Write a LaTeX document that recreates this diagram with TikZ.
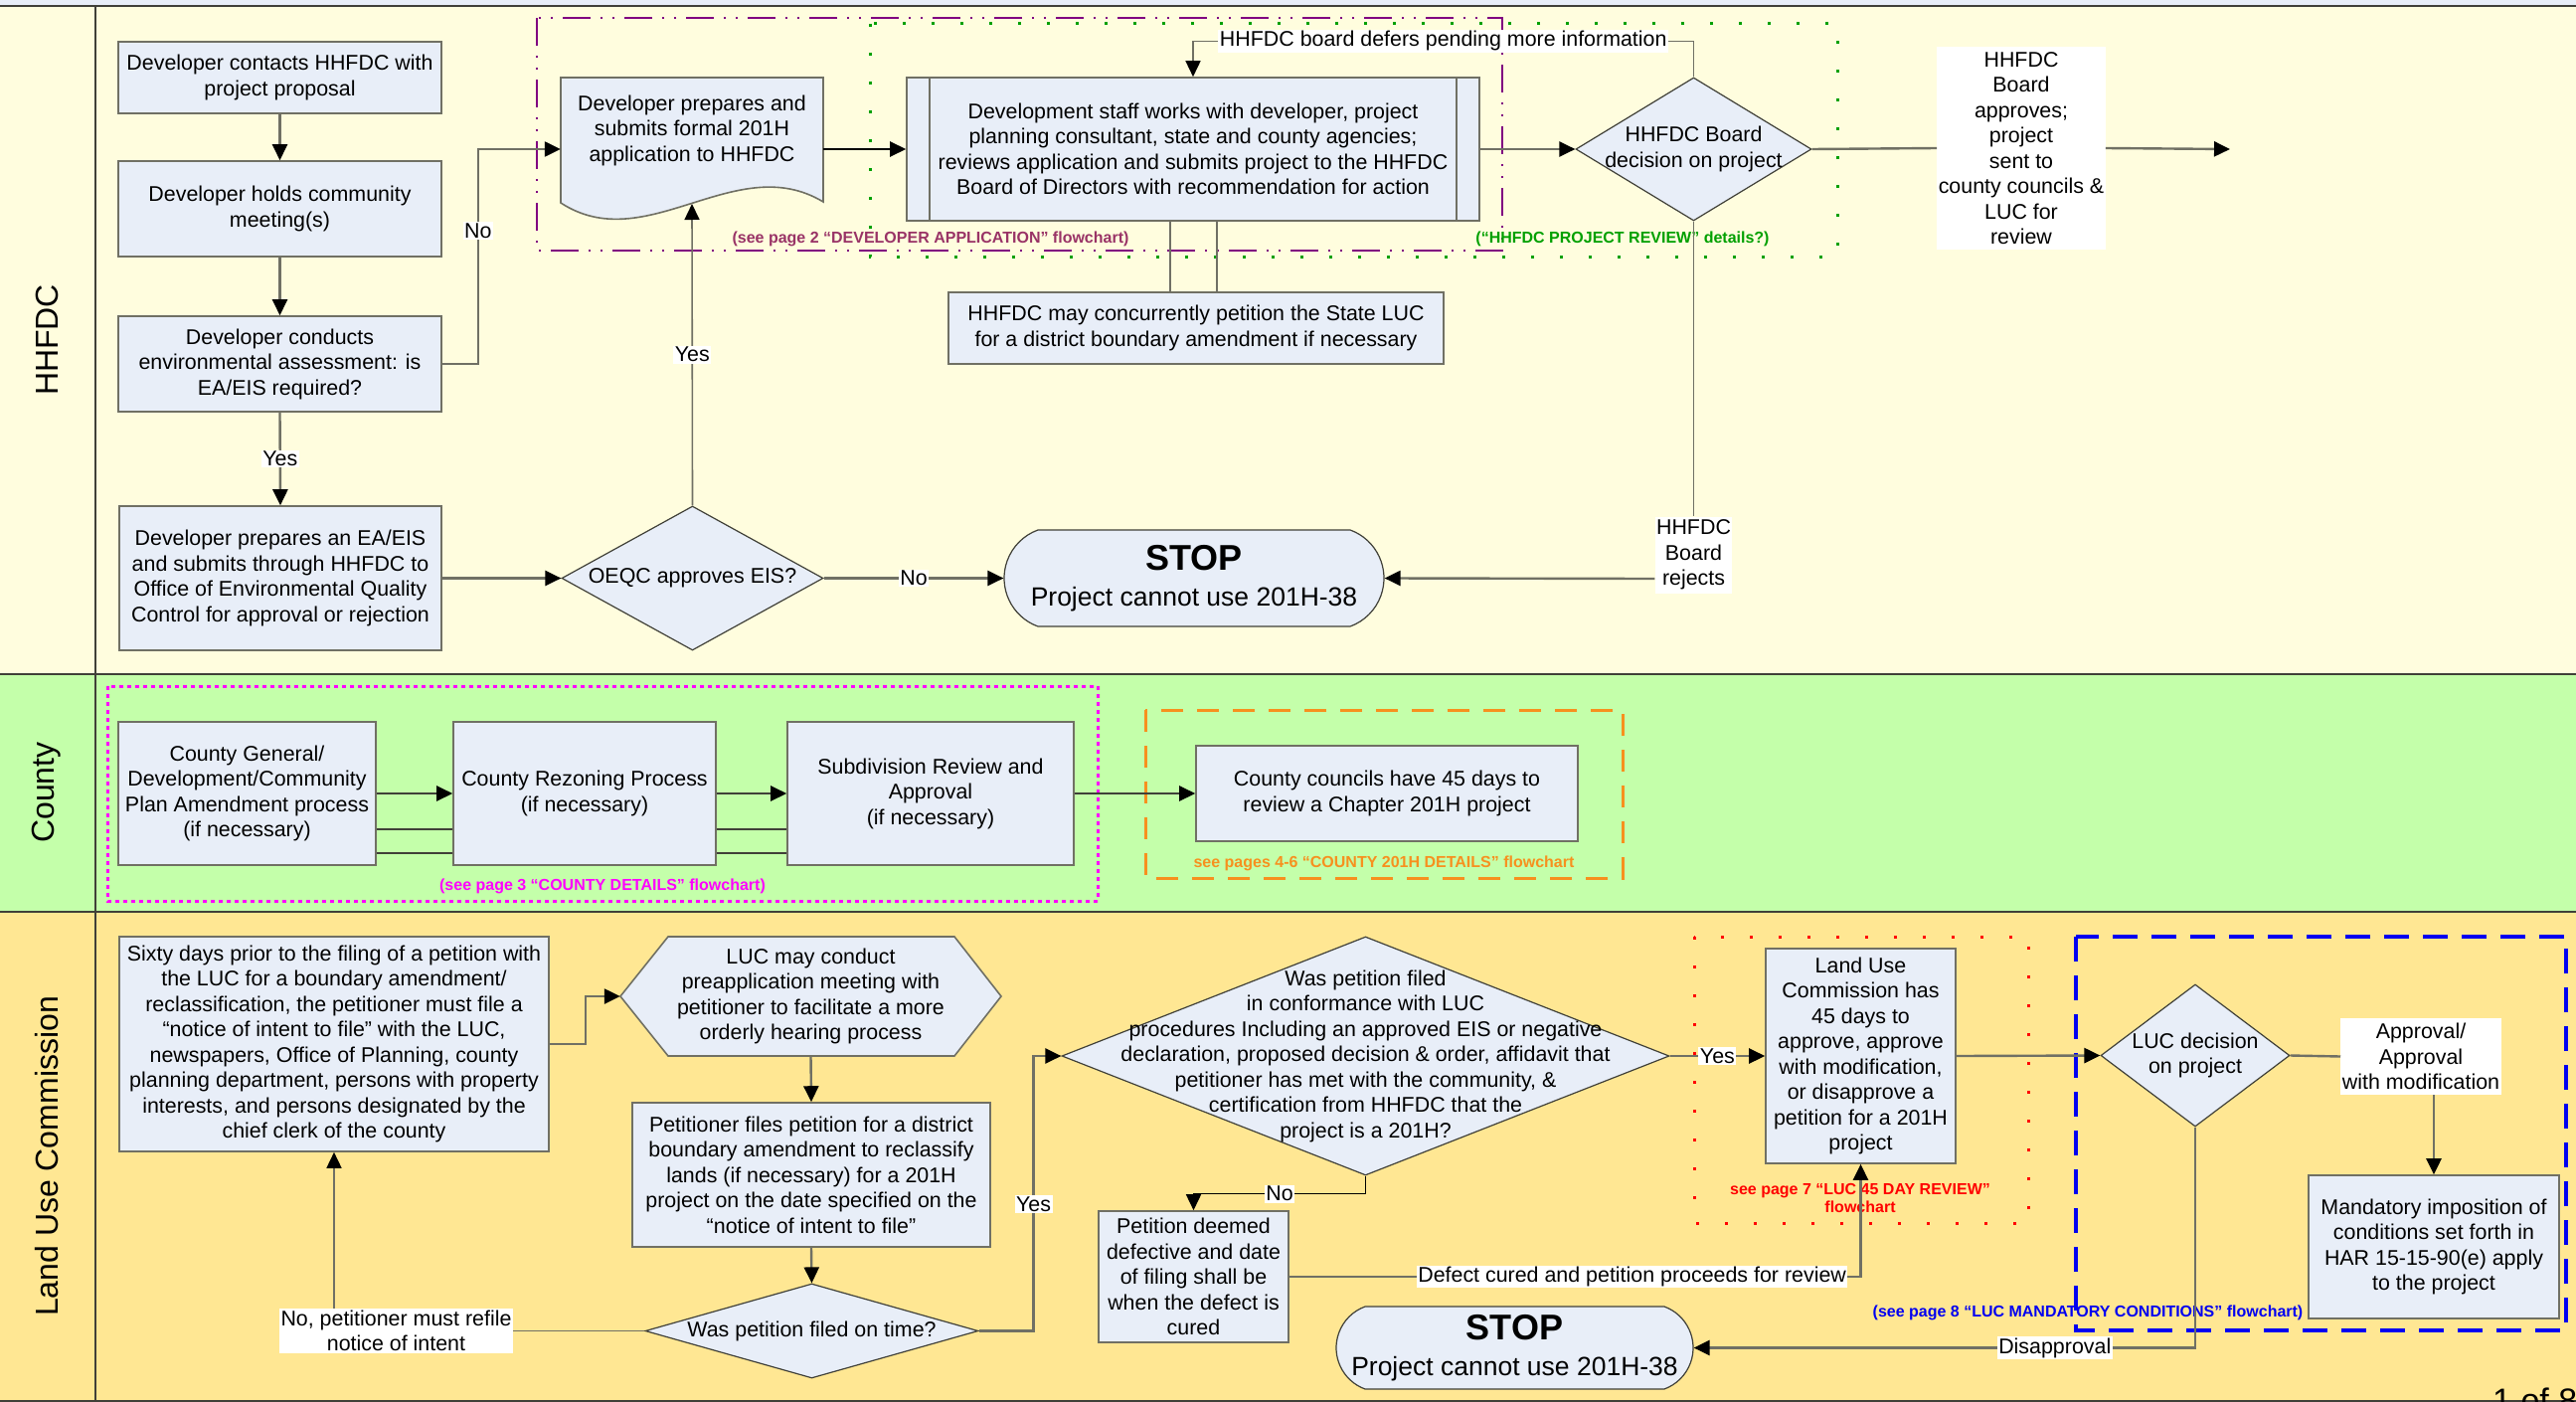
\documentclass[tikz,border=0pt]{standalone}
\usepackage{fontspec}
\setmainfont{Liberation Sans}
\usepackage{tikz}
\usetikzlibrary{arrows.meta, shapes.geometric, shapes.misc}

\definecolor{boxfill}{RGB}{232,238,248}
\definecolor{hhfdcbg}{RGB}{255,253,222}
\definecolor{countybg}{RGB}{196,255,170}
\definecolor{lucbg}{RGB}{255,231,147}
\definecolor{linegray}{RGB}{112,112,100}
\definecolor{framegray}{RGB}{64,64,56}
\definecolor{notepurple}{RGB}{153,51,102}
\definecolor{framepurple}{RGB}{128,0,128}
\definecolor{notegreen}{RGB}{0,160,0}
\definecolor{notemagenta}{RGB}{255,0,255}
\definecolor{noteorange}{RGB}{247,144,30}
\definecolor{notered}{RGB}{255,0,0}
\definecolor{noteblue}{RGB}{0,0,240}

\newcommand\flowfont{\fontsize{21.4}{25.5}\selectfont}
\newcommand\notefont{\fontsize{16}{18}\selectfont\bfseries}
\newcommand\stoptext{{\fontsize{36}{35}\selectfont\bfseries STOP}\\Project cannot use 201H-38}

\tikzset{
every picture/.style={x=1pt, y=-1pt},
proc/.style={draw=linegray, fill=boxfill, line width=1.6pt, align=center, font=\flowfont, inner sep=2pt},
decision/.style={diamond, draw=framegray, fill=boxfill, line width=1.2pt, inner sep=0pt},
dtext/.style={align=center, font=\flowfont, inner sep=0pt},
stopbox/.style={rounded rectangle, rounded rectangle arc length=140, draw=framegray, fill=boxfill, line width=1.2pt, align=center, inner sep=0pt, font=\fontsize{26.5}{36}\selectfont},
lbl/.style={fill=white, align=center, font=\flowfont, inner sep=1.5pt},
flow/.style={draw=linegray, line width=2.4pt, -{Triangle[length=16pt, width=15pt, color=black, fill=black]}},
link/.style={draw=linegray, line width=2.4pt},
note/.style={font=\notefont, align=center, inner sep=0pt},
lane/.style={font=\fontsize{32}{36}\selectfont, rotate=90},
}

\begin{document}
\begin{tikzpicture}
  \useasboundingbox (0,0) rectangle (2591,1410);
  \foreach \ytop/\ybot/\bg in {6/678/hhfdcbg, 678/917/countybg, 917/1410/lucbg}
    \fill[\bg] (0,\ytop) rectangle (2591,\ybot);
  \fill[boxfill] (0,0) rectangle (2591,6);
  \draw[framegray, line width=2pt] (0,6) -- (2591,6) (0,678) -- (2591,678) (0,917) -- (2591,917) (0,1409) -- (2591,1409) (96,6) -- (96,1410);
  \node[lane] (hhfdclane) at (47,342) {HHFDC};
  \node[lane] (countylane) at (47,797) {County};
  \node[lane] (luclane) at (47,1163) {Land Use Commission};

  \draw[framepurple, line width=2.5pt, dash pattern=on 28pt off 10pt on 2pt off 10pt on 2pt off 10pt] (540,18) rectangle (1511,252);
  \draw[notegreen, line width=3pt, dash pattern=on 3pt off 26pt] (875,24) rectangle (1848,258);
  \draw[notemagenta, line width=3pt, dash pattern=on 4pt off 4pt] (108,690) rectangle (1104,906);
  \draw[noteorange, line width=3pt, dash pattern=on 22pt off 14pt] (1152,714) rectangle (1632,883);
  \draw[notered, line width=3pt, dash pattern=on 3pt off 26pt] (1704,942) rectangle (2040,1230);
  \draw[noteblue, line width=3.5pt, dash pattern=on 25pt off 14pt] (2088,942) rectangle (2581,1338);

  \node[proc, minimum width=325pt, minimum height=72pt] (contact) at (281.5,78) {Developer contacts HHFDC with\\project proposal};
  \node[proc, minimum width=325pt, minimum height=96pt] (meeting) at (281.5,210) {Developer holds community\\meeting(s)};
  \node[proc, minimum width=325pt, minimum height=96pt] (assess) at (281.5,366) {Developer conducts\\environmental assessment: is\\EA/EIS required?};
  \node[proc, minimum width=324pt, minimum height=145pt] (prepeis) at (282,581.5) {Developer prepares an EA/EIS\\and submits through HHFDC to\\Office of Environmental Quality\\Control for approval or rejection};
  \node[decision, minimum width=263pt, minimum height=145pt, label={[dtext]center:OEQC approves EIS?}] (oeqc) at (696.5,581.5) {};
  \node[stopbox, minimum width=382pt, minimum height=97pt] (stop1) at (1201,581.5) {\stoptext};
  \filldraw[draw=linegray, fill=boxfill, line width=1.6pt] (564,78) -- (828,78) -- (828,203) .. controls (740,150) and (650,260) .. (564,204) -- cycle;
  \node[dtext, minimum width=264pt, minimum height=106pt] (doc) at (696,131) {Developer prepares and\\submits formal 201H\\application to HHFDC};
  \coordinate (docwave) at (696,205);
  \node[proc, minimum width=576pt, minimum height=144pt] (staff) at (1200,150) {Development staff works with developer, project\\planning consultant, state and county agencies;\\reviews application and submits project to the HHFDC\\Board of Directors with recommendation for action};
  \draw[linegray, line width=1.6pt] ([xshift=24pt]staff.north west) -- ([xshift=24pt]staff.south west) ([xshift=-24pt]staff.north east) -- ([xshift=-24pt]staff.south east);
  \node[proc, minimum width=498pt, minimum height=72pt] (concur) at (1203,330) {HHFDC may concurrently petition the State LUC\\for a district boundary amendment if necessary};
  \node[decision, minimum width=237pt, minimum height=144pt, label={[dtext]center:HHFDC Board\\decision on project}] (board) at (1703.5,150) {};
  \node[lbl, minimum width=166pt, minimum height=204pt] (sent) at (2033,149) {HHFDC\\Board\\approves;\\project\\sent to\\county councils \&\\LUC for\\review};
  \coordinate (onward) at (2243,150);
  \node[lbl, minimum width=75pt, minimum height=77pt] (rejects) at (1703.5,558) {HHFDC\\Board\\rejects};
  \node[note, text=notepurple] (devnote) at (936,240) {(see page 2 “DEVELOPER APPLICATION” flowchart)};
  \node[note, text=notegreen] (reviewnote) at (1632,240) {(“HHFDC PROJECT REVIEW” details?)};

  \draw[flow] (contact.south) -- (meeting.north);
  \draw[flow] (meeting.south) -- (assess.north);
  \draw[flow] (assess.east) -- ++(36,0) |- node[lbl, pos=0.31] {No} ([yshift=-19pt]doc.west);
  \draw[flow] (assess.south) -- node[lbl] {Yes} (prepeis.north);
  \draw[flow] (prepeis.east) -- (oeqc.west);
  \draw[flow, line width=1.6pt] (oeqc.north) -- node[lbl] {Yes} (docwave);
  \draw[flow] (oeqc.east) -- node[lbl] {No} (stop1.west);
  \draw[flow, draw=black] ([yshift=-19pt]doc.east) -- (staff.west);
  \draw[flow] (staff.east) -- (board.west);
  \draw[flow, line width=1.6pt] (board.north) -- ++(0,-36) -| node[lbl, pos=0.25] {HHFDC board defers pending more information} (staff.north);
  \draw[link, line width=1.6pt] ([xshift=-23pt]staff.south) -- ([xshift=-26pt]concur.north) ([xshift=24pt]staff.south) -- ([xshift=21pt]concur.north);
  \draw[link] (board.east) -- (sent.west);
  \draw[flow] (sent.east) -- (onward);
  \draw[link, line width=1.6pt] (board.south) -- (rejects.north);
  \draw[flow] ([yshift=-24pt]rejects.west) -- (stop1.east);

  \node[proc, minimum width=259pt, minimum height=144pt] (plan) at (248.5,798) {County General/\\Development/Community\\Plan Amendment process\\(if necessary)};
  \node[proc, minimum width=264pt, minimum height=144pt] (rezone) at (588,798) {County Rezoning Process\\(if necessary)};
  \node[proc, minimum width=288pt, minimum height=144pt] (subdiv) at (936,798) {Subdivision Review and\\Approval\\(if necessary)};
  \node[proc, minimum width=384pt, minimum height=96pt] (council) at (1395,798) {County councils have 45 days to\\review a Chapter 201H project};
  \node[note, text=notemagenta] (countynote) at (606,891) {(see page 3 “COUNTY DETAILS” flowchart)};
  \node[note, text=noteorange] (detailnote) at (1392,868) {see pages 4-6 “COUNTY 201H DETAILS” flowchart};

  \draw[flow, draw=framegray] (plan.east) -- (rezone.west);
  \draw[flow, draw=framegray] (rezone.east) -- (subdiv.west);
  \draw[flow, draw=framegray] (subdiv.east) -- (council.west);
  \foreach \dy in {-36pt,-60pt} {
    \draw[link, draw=framegray] ([yshift=\dy]plan.east) -- ([yshift=\dy]rezone.west);
    \draw[link, draw=framegray] ([yshift=\dy]rezone.east) -- ([yshift=\dy]subdiv.west);
  }

  \node[proc, minimum width=432pt, minimum height=216pt] (intent) at (336,1050) {Sixty days prior to the filing of a petition with\\the LUC for a boundary amendment/\\reclassification, the petitioner must file a\\“notice of intent to file” with the LUC,\\newspapers, Office of Planning, county\\planning department, persons with property\\interests, and persons designated by the\\chief clerk of the county};
  \filldraw[draw=linegray, fill=boxfill, line width=1.6pt] (624,1002) -- (672,942) -- (960,942) -- (1007,1002) -- (960,1062) -- (672,1062) -- cycle;
  \node[dtext, minimum width=383pt, minimum height=120pt] (premeet) at (815.5,1002) {LUC may conduct\\preapplication meeting with\\petitioner to facilitate a more\\orderly hearing process};
  \node[proc, minimum width=360pt, minimum height=145pt] (petition) at (816,1181.5) {Petitioner files petition for a district\\boundary amendment to reclassify\\lands (if necessary) for a 201H\\project on the date specified on the\\“notice of intent to file”};
  \node[decision, minimum width=335pt, minimum height=95pt, label={[dtext]center:Was petition filed on time?}] (ontime) at (816.5,1338.5) {};
  \node[decision, minimum width=611pt, minimum height=240pt, label={[dtext]center:Was petition filed\\in conformance with LUC\\procedures Including an approved EIS or negative\\declaration, proposed decision \& order, affidavit that\\petitioner has met with the community, \&\\certification from HHFDC that the\\project is a 201H?}] (conform) at (1373.5,1062) {};
  \node[proc, minimum width=191pt, minimum height=132pt] (defective) at (1200.5,1284) {Petition deemed\\defective and date\\of filing shall be\\when the defect is\\cured};
  \node[proc, minimum width=191pt, minimum height=216pt] (review45) at (1871.5,1062) {Land Use\\Commission has\\45 days to\\approve, approve\\with modification,\\or disapprove a\\petition for a 201H\\project};
  \node[decision, minimum width=190pt, minimum height=143pt, label={[dtext]center:LUC decision\\on project}] (lucdecide) at (2208,1061.5) {};
  \node[lbl, minimum width=158pt, minimum height=77pt] (approval) at (2435,1062.5) {Approval/\\Approval\\with modification};
  \node[proc, minimum width=252pt, minimum height=144pt] (mandatory) at (2448,1254) {Mandatory imposition of\\conditions set forth in\\HAR 15-15-90(e) apply\\to the project};
  \node[stopbox, minimum width=359pt, minimum height=83pt] (stop2) at (1523.5,1355.5) {\stoptext};
  \node[note, text=notered] (daynote) at (1871,1205) {see page 7 “LUC 45 DAY REVIEW”\\flowchart};
  \node[note, text=noteblue] (condnote) at (2100,1320) {(see page 8 “LUC MANDATORY CONDITIONS” flowchart)};
  \node[anchor=north west, inner sep=0pt, font=\fontsize{34}{36}\selectfont] (pageno) at (2507,1396) {1 of 8};

  \draw[flow] (intent.east) -- ++(36,0) |- (premeet.west);
  \draw[flow] (premeet.south) -- (petition.north);
  \draw[flow] (petition.south) -- (ontime.north);
  \draw[flow, line width=1.6pt] (ontime.west) -| node[lbl, pos=0.4] {No, petitioner must refile\\notice of intent} (intent.south);
  \draw[flow] (ontime.east) -- ++(55,0) |- node[lbl, pos=0.23] {Yes} (conform.west);
  \draw[flow, draw=black, line width=1.6pt] (conform.south) -- ++(0,18) -| node[lbl, pos=0.25] {No} (defective.north);
  \draw[flow] (conform.east) -- node[lbl] {Yes} (review45.west);
  \draw[flow] (defective.east) -| node[lbl, pos=0.3] {Defect cured and petition proceeds for review} (review45.south);
  \draw[flow] (review45.east) -- (lucdecide.west);
  \draw[link] (lucdecide.east) -- (approval.west);
  \draw[flow] (approval.south -| mandatory.north) -- (mandatory.north);
  \draw[flow] (lucdecide.south) |- node[lbl, pos=0.64] {Disapproval} (stop2.east);
\end{tikzpicture}
\end{document}
